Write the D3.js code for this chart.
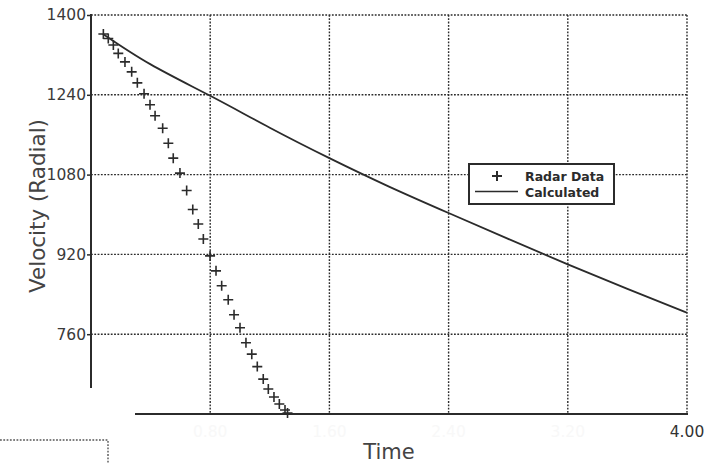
<!DOCTYPE html>
<html>
<head>
<meta charset="utf-8">
<script src="https://cdn.jsdelivr.net/npm/d3@7"></script>
<style>
  html, body { margin: 0; padding: 0; background: #fff; }
  svg { display: block; }
</style>
</head>
<body>
<div id="chart"></div>
<script>
// radar measurements (time, radial velocity)
var radarTime = [0.083, 0.116, 0.150, 0.183, 0.228, 0.273, 0.311, 0.356, 0.396, 0.430,
                 0.481, 0.519, 0.552, 0.597, 0.642, 0.683, 0.720, 0.754, 0.799, 0.839,
                 0.877, 0.921, 0.960, 1.000, 1.040, 1.079, 1.116, 1.156, 1.190, 1.228,
                 1.264, 1.302, 1.319];
var radarVelocity = [1362, 1353, 1340, 1323, 1306, 1286, 1264, 1242, 1220, 1198,
                     1173, 1143, 1113, 1083, 1048, 1010, 981, 951, 917, 887,
                     857, 829, 799, 773, 743, 720, 695, 670, 650, 634,
                     620, 608, 602];

// calculated curve
var calcTime = [0.08, 0.40, 0.80, 1.20, 1.60, 2.00, 2.40, 2.80, 3.20, 3.60, 4.00];
var calcVelocity = [1362, 1301, 1238, 1174, 1113, 1056, 1003, 951, 900, 851, 803];

var yTicks = [1400, 1240, 1080, 920, 760];
var xTicks = [0.8, 1.6, 2.4, 3.2, 4.0];
var xTickLabels = ["0.80", "1.60", "2.40", "3.20", "4.00"];
var legendLabels = ["Radar Data", "Calculated"];

var width = 719, height = 464;
var ink = "#2b2b2b";

var svg = d3.select("#chart").append("svg")
    .attr("width", width)
    .attr("height", height);

var x = d3.scaleLinear().domain([0, 4]).range([91, 687]);
var y = d3.scaleLinear().domain([600, 1400]).range([414, 15]);

var dots = "1.8,1.5";

// horizontal grid lines (1400 is the top border)
svg.append("g").selectAll("line")
    .data(yTicks)
    .enter().append("line")
    .attr("x1", x(0)).attr("x2", x(4))
    .attr("y1", d => y(d)).attr("y2", d => y(d))
    .attr("stroke", ink).attr("stroke-width", 1.4)
    .attr("stroke-dasharray", dots);

// vertical grid lines (4.00 is the right border)
svg.append("g").selectAll("line")
    .data(xTicks)
    .enter().append("line")
    .attr("x1", d => x(d)).attr("x2", d => x(d))
    .attr("y1", y(1400)).attr("y2", y(600))
    .attr("stroke", ink).attr("stroke-width", 1.4)
    .attr("stroke-dasharray", dots);

// left axis, the lower part is cut away in the scan
var yAxis = svg.append("g")
    .attr("transform", "translate(" + x(0) + ",0)")
    .call(d3.axisLeft(y).tickValues(yTicks).tickFormat(d3.format("d")).tickSize(4).tickPadding(1));
yAxis.select(".domain").remove();
yAxis.selectAll(".tick line").attr("stroke", ink).attr("stroke-width", 1.5);
yAxis.selectAll(".tick text")
    .attr("font-family", "DejaVu Sans, sans-serif")
    .attr("font-size", "15.5px")
    .attr("fill", "#3a3a3a");
yAxis.append("line")
    .attr("x1", 0).attr("x2", 0)
    .attr("y1", y(1400) - 1).attr("y2", 388)
    .attr("stroke", ink).attr("stroke-width", 2);

// bottom axis
svg.append("line")
    .attr("x1", 135).attr("x2", x(4) + 1)
    .attr("y1", y(600)).attr("y2", y(600))
    .attr("stroke", ink).attr("stroke-width", 2);

// x tick labels: only 4.00 survives the scan, the others are barely there
svg.append("g").selectAll("text")
    .data(xTicks)
    .enter().append("text")
    .attr("x", d => x(d))
    .attr("y", 437)
    .attr("text-anchor", "middle")
    .attr("font-family", "DejaVu Sans, sans-serif")
    .attr("font-size", "15.5px")
    .attr("fill", (d, i) => i == xTicks.length - 1 ? "#333" : "#f8f8f8")
    .text((d, i) => xTickLabels[i]);

// axis titles
svg.append("text")
    .attr("x", 389).attr("y", 459)
    .attr("text-anchor", "middle")
    .attr("font-family", "DejaVu Sans, sans-serif")
    .attr("font-size", "21px")
    .attr("fill", "#444")
    .text("Time");

svg.append("text")
    .attr("transform", "translate(45,206) rotate(-90)")
    .attr("text-anchor", "middle")
    .attr("font-family", "DejaVu Sans, sans-serif")
    .attr("font-size", "22px")
    .attr("fill", "#444")
    .attr("textLength", 174)
    .attr("lengthAdjust", "spacingAndGlyphs")
    .text("Velocity  (Radial)");

// calculated curve
var calcData = calcTime.map((t, i) => [t, calcVelocity[i]]);
svg.append("path")
    .datum(calcData)
    .attr("fill", "none")
    .attr("stroke", ink)
    .attr("stroke-width", 1.8)
    .attr("d", d3.line()
        .curve(d3.curveNatural)
        .x(d => x(d[0]))
        .y(d => y(d[1])));

// radar data markers
var cross = "M-5,0H5M0,-5V5";
svg.append("g").selectAll("path")
    .data(radarTime)
    .enter().append("path")
    .attr("transform", (d, i) => "translate(" + x(d) + "," + y(radarVelocity[i]) + ")")
    .attr("d", cross)
    .attr("fill", "none")
    .attr("stroke", ink)
    .attr("stroke-width", 1.6);

// legend
var legend = svg.append("g").attr("transform", "translate(469,164)");
legend.append("rect")
    .attr("width", 145).attr("height", 40)
    .attr("fill", "#fff")
    .attr("stroke", ink).attr("stroke-width", 2);
legend.append("path")
    .attr("transform", "translate(28,12)")
    .attr("d", "M-5,0H5M0,-5V5")
    .attr("stroke", ink).attr("stroke-width", 2);
legend.append("line")
    .attr("x1", 6).attr("x2", 49)
    .attr("y1", 27.5).attr("y2", 27.5)
    .attr("stroke", ink).attr("stroke-width", 1.6);
legend.selectAll("text.lab")
    .data(legendLabels)
    .enter().append("text")
    .attr("class", "lab")
    .attr("x", 56)
    .attr("y", (d, i) => 17 + i * 15.5)
    .attr("font-family", "DejaVu Sans, sans-serif")
    .attr("font-size", "12.5px")
    .attr("font-weight", "bold")
    .attr("fill", ink)
    .text(d => d);

// dotted frame fragment at lower left
svg.append("path")
    .attr("d", "M0,440H108V464")
    .attr("fill", "none")
    .attr("stroke", "#555").attr("stroke-width", 1.4)
    .attr("stroke-dasharray", dots);
</script>
</body>
</html>
